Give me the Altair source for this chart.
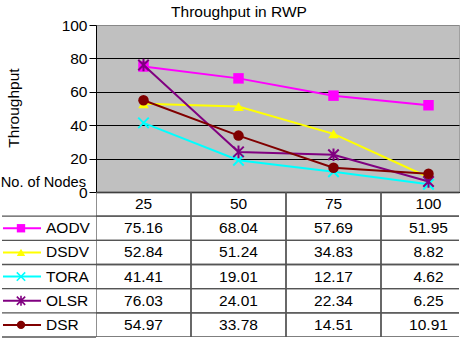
import altair as alt
import pandas as pd

# Throughput (per protocol) against number of nodes
nodes = [25, 50, 75, 100]
protocols = ["AODV", "DSDV", "TORA", "OLSR", "DSR"]
aodv = [75.16, 68.04, 57.69, 51.95]
dsdv = [52.84, 51.24, 34.83, 8.82]
tora = [41.41, 19.01, 12.17, 4.62]
olsr = [76.03, 24.01, 22.34, 6.25]
dsr = [54.97, 33.78, 14.51, 10.91]
y_ticks = [0, 20, 40, 60, 80, 100]

series_values = [aodv, dsdv, tora, olsr, dsr]
colors = ["#FF00FF", "#FFFF00", "#00FFFF", "#800080", "#800000"]
X_PATH = "M-1,-1L1,1M-1,1L1,-1"
STAR_PATH = "M-1,-1L1,1M-1,1L1,-1M0,-1.2L0,1.2"
shapes = ["square", "triangle-up", X_PATH, STAR_PATH, "circle"]
filled = [True, True, False, False, True]

FONT = "Liberation Sans"
FS = 15.5

# Each node count owns a table column 25 units wide; the plot shows the
# first three columns whole and most of the last one.
HALF = 12.5
PLOT_W = 363
COL_W = 95
x_domain = [nodes[0] - HALF, nodes[0] - HALF + PLOT_W * 25 / COL_W]

long_df = pd.DataFrame(
    [
        {"protocol": p, "nodes": n, "value": v}
        for p, vals in zip(protocols, series_values)
        for n, v in zip(nodes, vals)
    ]
)

row_keys = ["header"] + protocols
table_rows = [{"row": "header", "col": n, "label": str(n)} for n in nodes]
table_rows += [
    {"row": p, "col": n, "label": f"{v:.2f}"}
    for p, vals in zip(protocols, series_values)
    for n, v in zip(nodes, vals)
]
table_df = pd.DataFrame(table_rows)
proto_df = pd.DataFrame({"row": protocols})

# ---------- line chart ----------
x_q = alt.X(
    "nodes:Q",
    scale=alt.Scale(domain=x_domain, nice=False, zero=False),
    axis=alt.Axis(labels=False, ticks=False, title=None, domainColor="black",
                  domainWidth=1.5, grid=False),
)
y_val = alt.Y(
    "value:Q",
    scale=alt.Scale(domain=[0, 100]),
    axis=alt.Axis(
        values=y_ticks,
        title=None,
        labelFont=FONT,
        labelFontSize=FS,
        labelColor="black",
        labelPadding=2,
        tickColor="black",
        tickSize=7,
        domainColor="black",
        grid=True,
        gridColor=alt.condition(alt.datum.value == 100, alt.value("#888888"), alt.value("black")),
        gridWidth=1,
        gridOpacity=1,
    ),
)

layers = []
for p, c, s, f in zip(protocols, colors, shapes, filled):
    base = alt.Chart(long_df).transform_filter(alt.datum.protocol == p)
    layers.append(base.mark_line(color=c, strokeWidth=2).encode(x=x_q, y=y_val))
    layers.append(
        base.mark_point(
            shape=s, filled=f, color=c, size=110, opacity=1,
            strokeWidth=2 if not f else 0,
        ).encode(x=x_q, y=y_val)
    )

title_df = pd.DataFrame({"t": ["Throughput in RWP"]})
ytitle_df = pd.DataFrame({"t": ["Throughput"]})
xtitle_df = pd.DataFrame({"t": ["No. of Nodes"]})

title_text = alt.Chart(title_df).mark_text(
    font=FONT, fontSize=FS, color="black", align="center", baseline="alphabetic"
).encode(text="t:N", x=alt.value(143), y=alt.value(-8))
ytitle_text = alt.Chart(ytitle_df).mark_text(
    font=FONT, fontSize=FS, color="black", align="center", baseline="middle", angle=270
).encode(text="t:N", x=alt.value(-82), y=alt.value(83))
xtitle_text = alt.Chart(xtitle_df).mark_text(
    font=FONT, fontSize=14.6, color="black", align="right", baseline="alphabetic"
).encode(text="t:N", x=alt.value(-10), y=alt.value(162))

top = alt.layer(*layers, title_text, ytitle_text, xtitle_text).properties(
    width=PLOT_W,
    height=167,
    view=alt.ViewBackground(fill="#C0C0C0", stroke="#A0A0A0"),
)

# ---------- data table ----------
x_scale = alt.Scale(domain=x_domain, nice=False, zero=False)
y_row = alt.Y(
    "row:N",
    sort=row_keys,
    scale=alt.Scale(type="band", domain=row_keys, paddingInner=0, paddingOuter=0),
    axis=None,
)

cells = (
    alt.Chart(table_df)
    .transform_calculate(c0=f"datum.col - {HALF}", c1=f"datum.col + {HALF}")
    .mark_rect(fill="transparent", stroke="#555555", strokeWidth=1.3, clip=True)
    .encode(x=alt.X("c0:Q", scale=x_scale, axis=None), x2="c1:Q", y=y_row)
)

cell_text = alt.Chart(table_df).mark_text(
    font=FONT, fontSize=FS, color="black", align="center", baseline="middle"
).encode(x=alt.X("col:Q", scale=x_scale, axis=None), y=y_row, text="label:N")

def row_y(pos):
    return alt.Y(
        "row:N",
        sort=row_keys,
        bandPosition=pos,
        scale=alt.Scale(type="band", domain=row_keys, paddingInner=0, paddingOuter=0),
        axis=None,
    )

legend_top_rules = alt.Chart(proto_df).mark_rule(stroke="#555555", strokeWidth=1.3).encode(
    y=row_y(0), x=alt.value(-94), x2=alt.value(0)
)
legend_bottom_rule = (
    alt.Chart(proto_df)
    .transform_filter(alt.datum.row == protocols[-1])
    .mark_rule(stroke="#555555", strokeWidth=1.3)
    .encode(y=row_y(1), x=alt.value(-94), x2=alt.value(0))
)

legend_layers = []
for p, c, s, f in zip(protocols, colors, shapes, filled):
    base = alt.Chart(proto_df).transform_filter(alt.datum.row == p)
    legend_layers.append(
        base.mark_rule(color=c, strokeWidth=2).encode(
            y=row_y(0.5), x=alt.value(-93), x2=alt.value(-55)
        )
    )
    legend_layers.append(
        base.mark_point(
            shape=s, filled=f, color=c, size=70, opacity=1,
            strokeWidth=1.6 if not f else 0,
        ).encode(y=row_y(0.5), x=alt.value(-75))
    )

legend_names = alt.Chart(proto_df).mark_text(
    font=FONT, fontSize=FS, color="black", align="left", baseline="middle"
).encode(y=row_y(0.5), x=alt.value(-50), text="row:N")

table = alt.layer(
    cells, cell_text, legend_top_rules, legend_bottom_rule, *legend_layers, legend_names
).properties(
    width=PLOT_W,
    height=145,
    view=alt.ViewBackground(stroke="transparent"),
)

chart = (
    alt.vconcat(top, table, spacing=0, bounds="flush")
    .properties(padding={"left": 0, "top": 4, "right": 0, "bottom": 0})
    .configure(font=FONT)
)

chart.save("out.html", embed_options={"renderer": "svg", "actions": False})
